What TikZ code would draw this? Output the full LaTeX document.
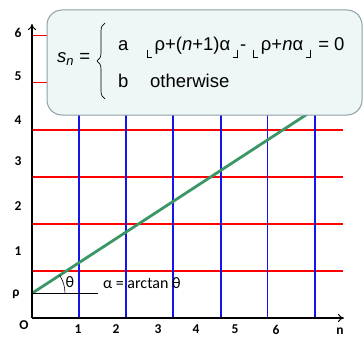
\documentclass[tikz,border=0pt]{standalone}
\usepackage{fontspec}
\setmainfont{Liberation Sans}
\newfontfamily\calfont{Carlito}
\usetikzlibrary{arrows.meta,decorations.pathreplacing,calc}
\definecolor{gridred}{RGB}{255,0,0}
\definecolor{gridblue}{RGB}{20,20,235}
\definecolor{slopegreen}{RGB}{58,150,100}
\definecolor{boxfill}{RGB}{238,246,246}
\definecolor{boxline}{RGB}{140,160,168}
\newcommand{\lfl}{\kern1.5pt\raisebox{-7.5pt}{\rule{1.4pt}{8pt}\rule{4pt}{1.4pt}}\kern2.5pt}
\newcommand{\rfl}{\kern2.5pt\raisebox{-7.5pt}{\rule{4pt}{1.4pt}\rule{1.4pt}{8pt}}\kern2pt}
\begin{document}
\begin{tikzpicture}[x=1pt,y=-1pt,
  redline/.style={gridred,line width=1.8pt},
  blueline/.style={gridblue,line width=1.8pt},
  axis/.style={black,line width=2.2pt,-{To[length=6pt,width=8pt,line width=1pt]}},
  axlabel/.style={font=\calfont\bfseries\fontsize{13.5}{14}\selectfont,inner sep=0pt},
  boxtext/.style={font=\fontsize{18.5}{20}\selectfont,inner sep=0pt,anchor=base west},
  lbl/.style={font=\calfont\fontsize{16}{17}\selectfont,inner sep=0pt}]
\useasboundingbox (0,0) rectangle (364,337);
% grid
\foreach \yy in {35.5,82.5,129.7,176.7,224,271}
  \draw[redline] (32,\yy) -- (343,\yy);
\foreach \xx in {79,126,173,221,267.5,315}
  \draw[blueline] (\xx,318) -- (\xx,100);
% slope line
\coordinate (rho) at (32,293.3);
\coordinate (gend) at (320,105.8);
\coordinate (hend) at (98,293.3);
\draw[slopegreen,line width=2.8pt] (rho) -- (gend);
\draw[black,line width=0.6pt] (rho) -- (hend);
\draw[black,line width=0.6pt] ($(rho)+(33,0)$) arc[start angle=0,end angle=-33.1,radius=33];
% axes
\coordinate (O) at (32,318);
\coordinate (ytop) at (32,24);
\coordinate (xend) at (344,318);
\draw[axis] (O) -- (ytop);
\draw[axis] (O) -- (xend);
% axis labels
\node[axlabel] (y6) at (18,33) {6};
\node[axlabel] (y5) at (18,76) {5};
\node[axlabel] (y4) at (18,120) {4};
\node[axlabel] (y3) at (18,161) {3};
\node[axlabel] (y2) at (18,206) {2};
\node[axlabel] (y1) at (18,251) {1};
\node[axlabel] (yrho) at (16,294) {ρ};
\node[axlabel] (lo) at (24,325) {O};
\node[axlabel] (x1) at (78,329.5) {1};
\node[axlabel] (x2) at (116,329.5) {2};
\node[axlabel] (x3) at (158,329.5) {3};
\node[axlabel] (x4) at (196,329.5) {4};
\node[axlabel] (x5) at (235,329.5) {5};
\node[axlabel] (x6) at (276,329.5) {6};
\node[axlabel] (xn) at (340,331) {n};
\node[lbl] (theta) at (70,282) {θ};
\node[lbl,anchor=west] (alpha) at (103,282.7) {α = arctan θ};
% formula box
\draw[boxline,fill=boxfill,line width=1pt,rounded corners=15pt] (47,10) rectangle (362,115);
\node[boxtext] (sn) at (57,63) {\textit{s}\textsubscript{\textit{n}} =};
\draw[black,line width=0.7pt,decorate,decoration={brace,amplitude=8pt}] (105,99) -- (105,23);
\node[boxtext] (ra) at (118,51) {a};
\node[boxtext] (rf) at (145,51) {\lfl ρ+(\textit{n}+1)α\rfl- \lfl ρ+\textit{n}α\rfl{} = 0};
\node[boxtext] (rb) at (118,88) {b};
\node[boxtext] (ro) at (150,88) {otherwise};
\end{tikzpicture}
\end{document}
